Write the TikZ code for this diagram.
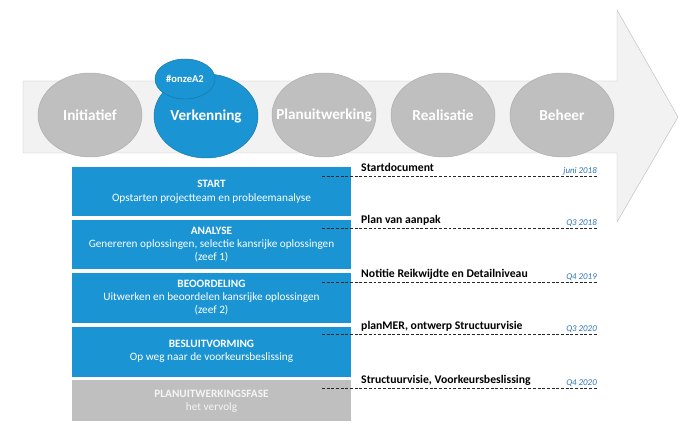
\documentclass[tikz,border=0pt]{standalone}
\usepackage{fontspec}
\setmainfont{Carlito}
\usetikzlibrary{positioning,shapes.geometric}
\definecolor{rwsblue}{RGB}{27,148,211}
\definecolor{datumblue}{RGB}{46,116,181}

\begin{document}
\begin{tikzpicture}[
  x=0.03cm, y=-0.03cm,
  node distance=0.1cm,
  fase/.style={ellipse, draw=gray!65, fill=gray!50, minimum width=3.12cm,
               minimum height=2.52cm, inner sep=0pt},
  fasetekst/.style={text=white, inner sep=0pt,
                    font=\fontsize{13}{15}\selectfont\bfseries},
  actief/.style={fase, draw=rwsblue!80!black, fill=rwsblue},
  stap/.style={fill=rwsblue, minimum width=8.37cm, minimum height=1.47cm,
               align=center, text=white, inner sep=2pt,
               font=\fontsize{9.6}{11.2}\selectfont},
  mijlpaal/.style={anchor=base west, inner sep=0pt,
                   font=\fontsize{10}{12}\selectfont\bfseries},
  datum/.style={anchor=base east, inner sep=0pt, text=datumblue,
                font=\fontsize{7.6}{9}\selectfont\itshape},
  streep/.style={dash pattern=on 2.5pt off 1.5pt, line width=0.5pt,
                 black!85}
]
\useasboundingbox (0,0) rectangle (693,431);

\draw[draw=gray!50, fill=gray!10] (23,81) -- (617,81) -- (617,10) -- (678,117)
  -- (617,222) -- (617,153) -- (23,153) -- cycle;

\node[fase, label={[fasetekst]center:Initiatief}] (initiatief) at (90,115) {};
\node[actief, label={[fasetekst]center:Verkenning}] (verkenning) at (206,116) {};
\node[fase, label={[fasetekst]center:Planuitwerking}] (planuitw) at (324,115) {};
\node[fase, label={[fasetekst]center:Realisatie}] (realisatie) at (443,115) {};
\node[fase, label={[fasetekst]center:Beheer}] (beheer) at (562,115) {};
\node[actief, minimum width=1.8cm, minimum height=1.2cm,
      label={[fasetekst, font=\fontsize{9}{10}\selectfont\bfseries]center:\#onzeA2}]
      (onze) at (185,79) {};

\node[stap, anchor=north] (start) at (211.5,167) {\textbf{START}\\
Opstarten projectteam en probleemanalyse};
\node[stap, below=of start] (analyse) {\textbf{ANALYSE}\\
Genereren oplossingen, selectie kansrijke oplossingen\\(zeef 1)};
\node[stap, below=of analyse, minimum height=1.5cm] (beoordeling)
{\textbf{BEOORDELING}\\
Uitwerken en beoordelen kansrijke oplossingen\\(zeef 2)};
\node[stap, below=of beoordeling, minimum height=1.5cm] (besluit)
{\textbf{BESLUITVORMING}\\Op weg naar de voorkeursbeslissing};
\node[stap, below=of besluit, minimum height=1.23cm, fill=gray!50,
      text=gray!8] (vervolg) {\textbf{PLANUITWERKINGSFASE}\\het vervolg};

\node[mijlpaal] (m1) at (361,172) {Startdocument};
\node[mijlpaal] (m2) at (361,224) {Plan van aanpak};
\node[mijlpaal] (m3) at (361,278) {Notitie Reikwijdte en Detailniveau};
\node[mijlpaal] (m4) at (361,330) {planMER, ontwerp Structuurvisie};
\node[mijlpaal] (m5) at (361,384) {Structuurvisie, Voorkeursbeslissing};

\node[datum] (d1) at (597,174) {juni 2018};
\node[datum] (d2) at (597,226) {Q3 2018};
\node[datum] (d3) at (597,280) {Q4 2019};
\node[datum] (d4) at (597,332) {Q3 2020};
\node[datum] (d5) at (597,386) {Q4 2020};

\coordinate (s1) at (322,176);
\coordinate (s2) at (322,228);
\coordinate (s3) at (322,282);
\coordinate (s4) at (322,334);
\coordinate (s5) at (322,388);

\draw[streep] (s1) -- (s1 -| d1.east);
\draw[streep] (s2) -- (s2 -| d2.east);
\draw[streep] (s3) -- (s3 -| d3.east);
\draw[streep] (s4) -- (s4 -| d4.east);
\draw[streep] (s5) -- (s5 -| d5.east);
\end{tikzpicture}
\end{document}
